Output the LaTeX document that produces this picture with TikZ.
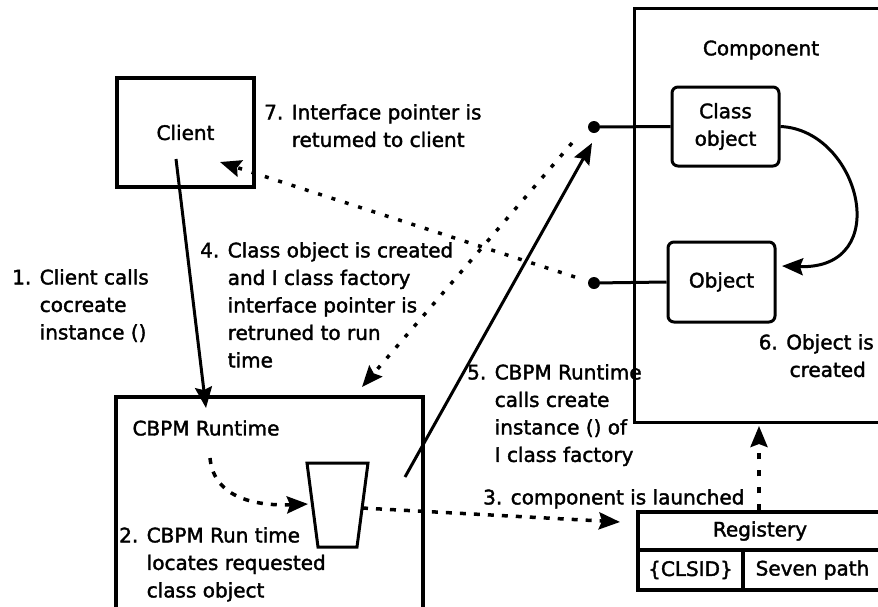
\documentclass[tikz,border=0pt]{standalone}
\usepackage{fontspec}
\setmainfont{DejaVu Sans}[FakeBold=1.8]
\usetikzlibrary{arrows.meta}
\usetikzlibrary{positioning}

\tikzset{
	dotline/.style={line width=3.5pt, dash pattern=on 4pt off 10pt},
	dashline/.style={line width=3.5pt, dash pattern=on 6pt off 8pt},
	solidline/.style={line width=3pt}
}

\begin{document}
\begin{tikzpicture}[x=1pt, y=-1pt, font=\fontsize{20}{27.5}\selectfont,
                    >={Stealth[length=21pt, width=17pt, inset=3pt]}]
	\useasboundingbox (0,0) rectangle (878,606);

	% boxes
	\begin{scope}[every node/.style={draw, line width=3.5pt, inner sep=0pt}]
		\node[minimum width=137pt, minimum height=109pt] (client) at (185.5,132.5) {Client};
		\node[line width=3pt, minimum width=254pt, minimum height=414pt] (comp) at (761,215) {};
		\node[minimum width=307pt, minimum height=230pt] (runtime) at (269.5,512) {};
		\node[line width=3pt, rounded corners=6pt, minimum width=107pt, minimum height=79pt, align=center] (classobj) at (725.5,126.5) {Class\\object};
		\node[line width=3pt, rounded corners=6pt, minimum width=107pt, minimum height=80pt] (object) at (721.5,282) {Object};
		\node[minimum width=244pt, minimum height=38pt] (reg) at (760,531) {Registery};
		\node[minimum width=105pt, minimum height=40pt] (clsid) at (690.5,570) {\{CLSID\}};
		\node[minimum width=139pt, minimum height=40pt] (path) at (812.5,570) {Seven path};
	\end{scope}

	% cup
	\draw[line width=3pt] (307,463) -- (368,463) -- (357,547) -- (318,547) -- cycle;
	\coordinate (cupwest) at (308,504);
	\coordinate (cupeast) at (362,508);

	\node (comptitle) at (761,50) {Component};
	\node (rttitle) at (206,428) {CBPM Runtime};

	% interface dots
	\node[circle, fill, inner sep=0pt, minimum size=12pt] (cdot) at (594,127) {};
	\node[circle, fill, inner sep=0pt, minimum size=12pt] (odot) at (594,283) {};
	\draw[solidline] (cdot) -- (classobj.west);
	\draw[solidline] (odot) -- (object.west);

	% free ends
	\coordinate (a1) at (176,159);
	\coordinate (b1) at (206,408);
	\coordinate (a5) at (405,477);
	\coordinate (b5) at (592,143);
	\coordinate (a4) at (572,143);
	\coordinate (b4) at (362,387);
	\coordinate (a7) at (575,277);
	\coordinate (b7) at (220,162);
	\coordinate (b3) at (620,522);
	\coordinate (a2) at (210,458);
	\coordinate (b6) at (782,266);
	\coordinate (breg) at (759,426);

	% steps
	\draw[solidline, ->] (a1) -- (b1);
	\draw[solidline, ->] (a5) -- (b5);
	\draw[dotline, ->] (a4) -- (b4);
	\draw[dotline, ->] (a7) -- (b7);
	\draw[dashline, ->] (cupeast) -- (b3);
	\draw[dashline, ->] (a2) .. controls (214,500) and (260,506) .. (cupwest);
	\draw[dashline, dash pattern=on 6pt off 11pt, ->] (reg.north -| breg) -- (breg);
	\draw[solidline, ->] (classobj.east) .. controls (860,130) and (895,270) .. (b6);

	% labels
	\begin{scope}[every node/.style={anchor=north west, inner sep=0pt, align=left}]
		\node (lbl7) at (264,104) {7. Interface pointer is\\\phantom{7. }retumed to client};
		\node (lbl4) at (200,242) {4. Class object is created\\\phantom{4. }and I class factory\\\phantom{4. }interface pointer is\\\phantom{4. }retruned to run\\\phantom{4. }time};
		\node (lbl1) at (12,269) {1. Client calls\\\phantom{1. }cocreate\\\phantom{1. }instance ()};
		\node (lbl2) at (119,527) {2. CBPM Run time\\\phantom{2. }locates requested\\\phantom{2. }class object};
		\node (lbl5) at (467,364) {5. CBPM Runtime\\\phantom{5. }calls create\\\phantom{5. }instance () of\\\phantom{5. }I class factory};
		\node (lbl3) at (483,489) {3. component is launched};
	\end{scope}
	\node[anchor=north east, inner sep=0pt, align=right] (lbl6) at (874,334) {6. Object is\\created\rule{8pt}{0pt}};
\end{tikzpicture}
\end{document}
